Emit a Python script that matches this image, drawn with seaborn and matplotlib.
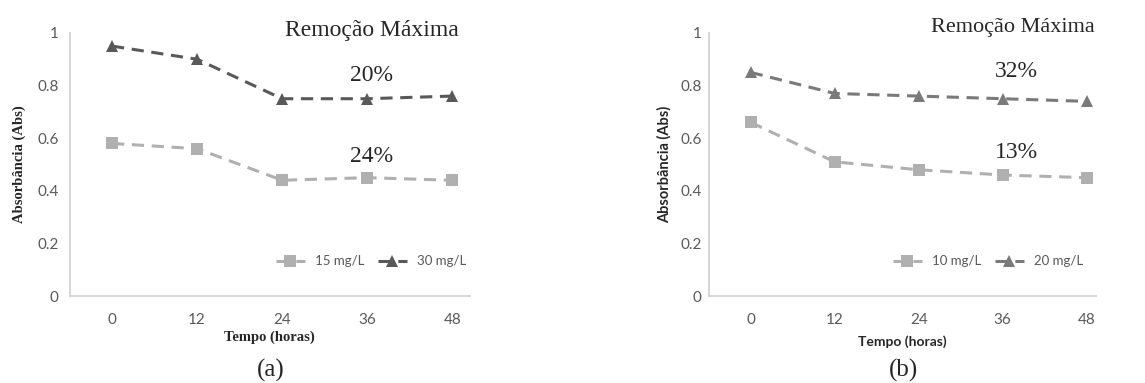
import pandas as pd
import numpy as np
import matplotlib
matplotlib.use('Agg')
import matplotlib.pyplot as plt
import seaborn as sns

# dados
horas = [0, 12, 24, 36, 48]
abs_15 = [0.58, 0.56, 0.44, 0.45, 0.44]
abs_30 = [0.95, 0.90, 0.75, 0.75, 0.76]
abs_10 = [0.66, 0.51, 0.48, 0.46, 0.45]
abs_20 = [0.85, 0.77, 0.76, 0.75, 0.74]
rem_a = ['20%', '24%']
rem_b = ['32%', '13%']
yticks = [0, 0.2, 0.4, 0.6, 0.8, 1]
ytick_labels = ['0', '0.2', '0.4', '0.6', '0.8', '1']

sns.set_style('white')
plt.rcParams['font.family'] = ['Lato', 'DejaVu Sans']

fig = plt.figure(figsize=(11.45, 3.83), dpi=100)
ax_a = fig.add_axes([0.0607, 0.227, 0.3498, 0.687])
ax_b = fig.add_axes([0.619, 0.227, 0.338, 0.687])

tick_col = '#595959'
axis_col = '#d0d0d0'


def painel(ax, s1, s2, nomes, cores, xmax, serif_labels):
    df = pd.DataFrame({
        'Tempo': horas * 2,
        'Abs': s1 + s2,
        'serie': [nomes[0]] * len(horas) + [nomes[1]] * len(horas),
    })
    sns.lineplot(data=df, x='Tempo', y='Abs', hue='serie', style='serie',
                 palette=dict(zip(nomes, cores)),
                 markers={nomes[0]: 's', nomes[1]: '^'},
                 dashes={nomes[0]: (4, 2.5), nomes[1]: (4, 2.5)},
                 markersize=8, markeredgewidth=0, linewidth=2.2, ax=ax)
    ax.set_xlim(-6, xmax)
    ax.set_ylim(0, 1)
    ax.set_xticks(horas)
    ax.set_xticklabels([str(h) for h in horas])
    ax.set_yticks(yticks)
    ax.set_yticklabels(ytick_labels)
    ax.tick_params(axis='both', length=0, labelsize=11, labelcolor=tick_col)
    ax.tick_params(axis='x', pad=12)
    for s in ['top', 'right']:
        ax.spines[s].set_visible(False)
    for s in ['left', 'bottom']:
        ax.spines[s].set_color(axis_col)
        ax.spines[s].set_linewidth(1.2)
    if serif_labels:
        ax.tick_params(axis='y', pad=8)
        ax.set_xlabel('Tempo (horas)', family='Liberation Serif',
                      fontweight='bold', fontsize=10.5, labelpad=3)
        ax.set_ylabel('Absorbância (Abs)', family='Liberation Serif',
                      fontweight='bold', fontsize=10.5, labelpad=8)
    else:
        ax.tick_params(axis='y', pad=5)
        ax.set_xlabel('Tempo (horas)', fontweight='bold', fontsize=10,
                      labelpad=6)
        ax.set_ylabel('Absorbância (Abs)', fontweight='bold', fontsize=10.5,
                      labelpad=6)
    ax.xaxis.label.set_color('#262626')
    ax.yaxis.label.set_color('#262626')


painel(ax_a, abs_15, abs_30, ['15 mg/L', '30 mg/L'], ['#b0b0b0', '#595959'],
       50.5, True)
painel(ax_b, abs_10, abs_20, ['10 mg/L', '20 mg/L'], ['#b0b0b0', '#7a7a7a'],
       49.3, False)

for ax, anch in [(ax_a, (0.485, 0.2)), (ax_b, (0.445, 0.2))]:
    leg = ax.legend(loc='upper left', bbox_to_anchor=anch, ncol=2,
                    frameon=False, fontsize=9.5, handlelength=2.2,
                    columnspacing=1.0, handletextpad=0.8)
    for t in leg.get_texts():
        t.set_color(tick_col)

serif = 'Liberation Serif'
# anotacoes de remocao maxima
ax_a.text(0.755, 1.01, 'Remoção Máxima', transform=ax_a.transAxes,
          ha='center', va='center', family=serif, fontsize=17)
ax_a.text(0.755, 0.84, rem_a[0], transform=ax_a.transAxes,
          ha='center', va='center', family=serif, fontsize=17)
ax_a.text(0.755, 0.53, rem_a[1], transform=ax_a.transAxes,
          ha='center', va='center', family=serif, fontsize=17)
ax_b.text(0.785, 1.02, 'Remoção Máxima', transform=ax_b.transAxes,
          ha='center', va='center', family=serif, fontsize=16)
ax_b.text(0.795, 0.855, rem_b[0], transform=ax_b.transAxes,
          ha='center', va='center', family=serif, fontsize=17)
ax_b.text(0.795, 0.545, rem_b[1], transform=ax_b.transAxes,
          ha='center', va='center', family=serif, fontsize=17)

fig.text(271 / 1145, 1 - 370 / 383, '(a)', ha='center', va='center',
         family=serif, fontsize=18)
fig.text(903 / 1145, 1 - 370 / 383, '(b)', ha='center', va='center',
         family=serif, fontsize=18)

fig.savefig('out.png', dpi=100)
